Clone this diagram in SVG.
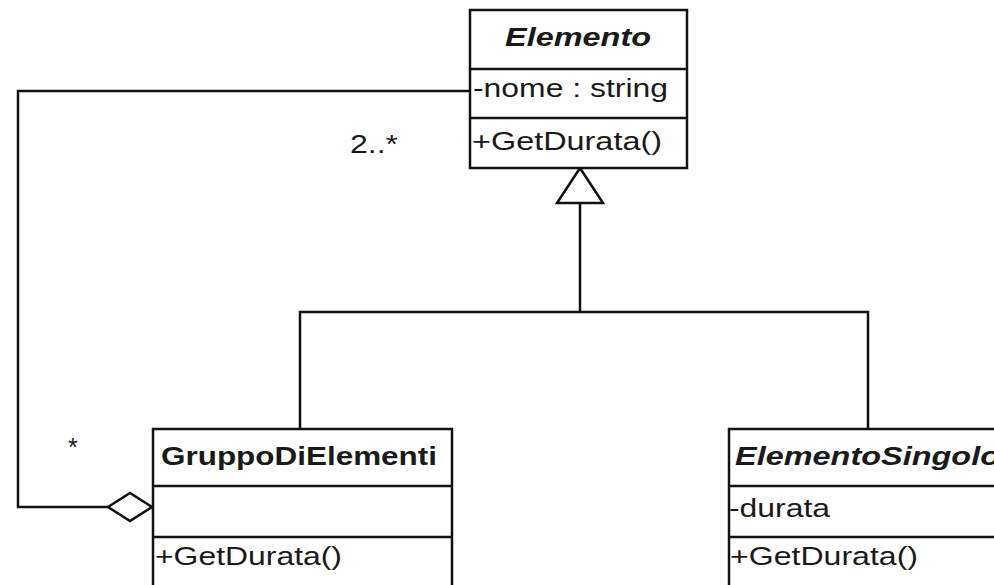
<svg xmlns="http://www.w3.org/2000/svg" width="994" height="585" viewBox="0 0 994 585">
<style>
.box{fill:#fff;stroke:#111;stroke-width:2.5}
.div{stroke:#111;stroke-width:2.5;fill:none}
.ln{stroke:#111;stroke-width:2.5;fill:none}
.hd{font-family:"Liberation Sans",Arial,sans-serif;font-size:25px;font-weight:bold;fill:#1a1a1a}
.it{font-style:italic}
.tx{font-family:"Liberation Sans",Arial,sans-serif;font-size:25px;fill:#1a1a1a}
</style>
<rect width="994" height="585" fill="#fff"/>
<g id="connectors">
<polyline class="ln" points="470,91 18,91 18,507 108,507"/>
<polygon class="ln" fill="#fff" points="108,507 130,493 152,507 130,521"/>
<polyline class="ln" points="580,203 580,312"/>
<polyline class="ln" points="300,429 300,312 868,312 868,429"/>
<polygon class="ln" fill="#fff" points="580,168 603,203 557,203"/>
<text class="tx" x="350" y="153" textLength="48" lengthAdjust="spacingAndGlyphs">2..*</text>
<text class="tx" x="68" y="456">*</text>
</g>
<g id="Elemento">
<rect class="box" x="470" y="10" width="217" height="158"/>
<line class="div" x1="470" y1="69" x2="687" y2="69"/>
<line class="div" x1="470" y1="118" x2="687" y2="118"/>
<text class="hd it" x="505" y="46" textLength="146" lengthAdjust="spacingAndGlyphs">Elemento</text>
<text class="tx" x="473" y="97" textLength="195" lengthAdjust="spacingAndGlyphs">-nome : string</text>
<text class="tx" x="472" y="150" textLength="190" lengthAdjust="spacingAndGlyphs">+GetDurata()</text>
</g>
<g id="GruppoDiElementi">
<rect class="box" x="153" y="429" width="299" height="180"/>
<line class="div" x1="153" y1="486" x2="452" y2="486"/>
<line class="div" x1="153" y1="537" x2="452" y2="537"/>
<text class="hd" x="161" y="465" textLength="276" lengthAdjust="spacingAndGlyphs">GruppoDiElementi</text>
<text class="tx" x="155" y="565" textLength="187" lengthAdjust="spacingAndGlyphs">+GetDurata()</text>
</g>
<g id="ElementoSingolo">
<rect class="box" x="729" y="429" width="300" height="180"/>
<line class="div" x1="729" y1="486" x2="1000" y2="486"/>
<line class="div" x1="729" y1="537" x2="1000" y2="537"/>
<text class="hd it" x="735" y="465" textLength="265" lengthAdjust="spacingAndGlyphs">ElementoSingolo</text>
<text class="tx" x="729" y="517" textLength="101" lengthAdjust="spacingAndGlyphs">-durata</text>
<text class="tx" x="730" y="565" textLength="188" lengthAdjust="spacingAndGlyphs">+GetDurata()</text>
</g>
</svg>
